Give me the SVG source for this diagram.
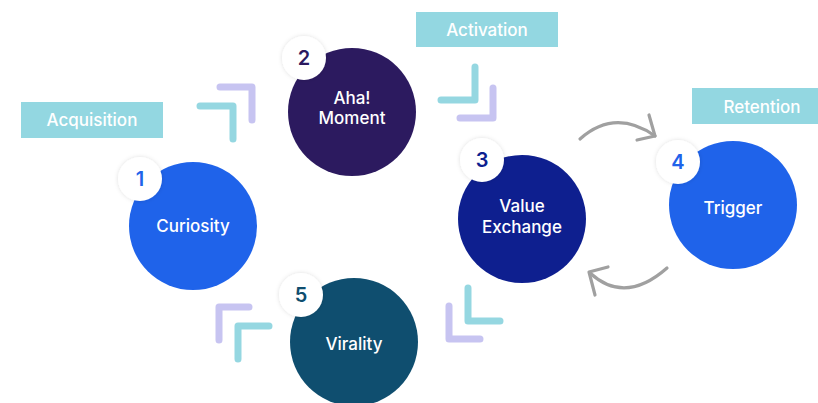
<svg xmlns="http://www.w3.org/2000/svg" width="818" height="403" viewBox="0 0 818 403">
<defs>
<filter id="sh" x="-50%" y="-50%" width="200%" height="200%">
<feDropShadow dx="0" dy="0" stdDeviation="2.2" flood-color="#000" flood-opacity="0.13"/>
</filter>
<style>
.lbl{fill:#93d7e1}
.lt{font-family:Inter,"Noto Sans",sans-serif;font-weight:500;font-size:17px;fill:#ffffff;text-anchor:middle}
.nt{font-family:Inter,"Noto Sans",sans-serif;font-weight:500;font-size:17px;fill:#ffffff;text-anchor:middle}
.num{font-family:Inter,"Noto Sans",sans-serif;font-weight:600;font-size:20px;text-anchor:middle}
.badge{fill:#ffffff;filter:url(#sh)}
.chp{fill:none;stroke:#c7c4f1;stroke-width:7;stroke-linecap:round;stroke-linejoin:round}
.chc{fill:none;stroke:#95d7e1;stroke-width:7;stroke-linecap:round;stroke-linejoin:round}
.arr{fill:none;stroke:#a0a0a0;stroke-width:3.2;stroke-linecap:round;stroke-linejoin:round}
</style>
</defs>
<rect width="818" height="403" fill="#ffffff"/>

<g id="label-acquisition">
<rect class="lbl" x="21" y="102" width="142" height="36"/>
<text class="lt" x="92" y="125.5">Acquisition</text>
</g>
<g id="label-activation">
<rect class="lbl" x="416" y="12" width="142" height="35"/>
<text class="lt" x="487" y="35.5">Activation</text>
</g>
<g id="label-retention">
<rect class="lbl" x="692" y="88" width="140" height="36"/>
<text class="lt" x="762" y="112.5">Retention</text>
</g>

<g id="connectors">
<polyline class="chp" points="220,87 252,87 252,120"/>
<polyline class="chc" points="200,106 233,106 233,139"/>
<polyline class="chc" points="475,67 475,100 441,100"/>
<polyline class="chp" points="493,88 493,118 460,118"/>
<polyline class="chc" points="468,288 468,321 500,321"/>
<polyline class="chp" points="449,306 449,339 480,339"/>
<polyline class="chp" points="249,307 219,307 219,340"/>
<polyline class="chc" points="269,326 238,326 238,359"/>
<path class="arr" d="M580,139 Q615,108 655,136"/>
<path class="arr" d="M649,115 L655,136 L637,140"/>
<path class="arr" d="M667,268 Q625,305 590,273"/>
<path class="arr" d="M608,267 L589,272 L595,295"/>
</g>

<g id="node-1">
<circle cx="193" cy="226" r="64" fill="#1f63ea"/>
<circle class="badge" cx="140" cy="179" r="22"/>
<text class="num" x="140" y="186" fill="#1f63ea">1</text>
<text class="nt" x="193" y="231.5">Curiosity</text>
</g>
<g id="node-2">
<circle cx="352" cy="112" r="64" fill="#2c1a5f"/>
<circle class="badge" cx="304" cy="58" r="22"/>
<text class="num" x="304" y="65" fill="#2c1a5f">2</text>
<text class="nt" x="352" y="103.5">Aha!</text>
<text class="nt" x="352" y="123.5">Moment</text>
</g>
<g id="node-3">
<circle cx="522" cy="219" r="64" fill="#0e1f8f"/>
<circle class="badge" cx="482" cy="160" r="22"/>
<text class="num" x="482" y="167" fill="#0e1f8f">3</text>
<text class="nt" x="522" y="211.5">Value</text>
<text class="nt" x="522" y="232.5">Exchange</text>
</g>
<g id="node-4">
<circle cx="733" cy="205" r="64" fill="#1f63ea"/>
<circle class="badge" cx="678" cy="162" r="22"/>
<text class="num" x="678" y="169" fill="#1f63ea">4</text>
<text class="nt" x="733" y="214">Trigger</text>
</g>
<g id="node-5">
<circle cx="354" cy="342" r="64" fill="#0f4e6f"/>
<circle class="badge" cx="301" cy="295" r="22"/>
<text class="num" x="301" y="302" fill="#0f4e6f">5</text>
<text class="nt" x="354" y="349.5">Virality</text>
</g>
</svg>
